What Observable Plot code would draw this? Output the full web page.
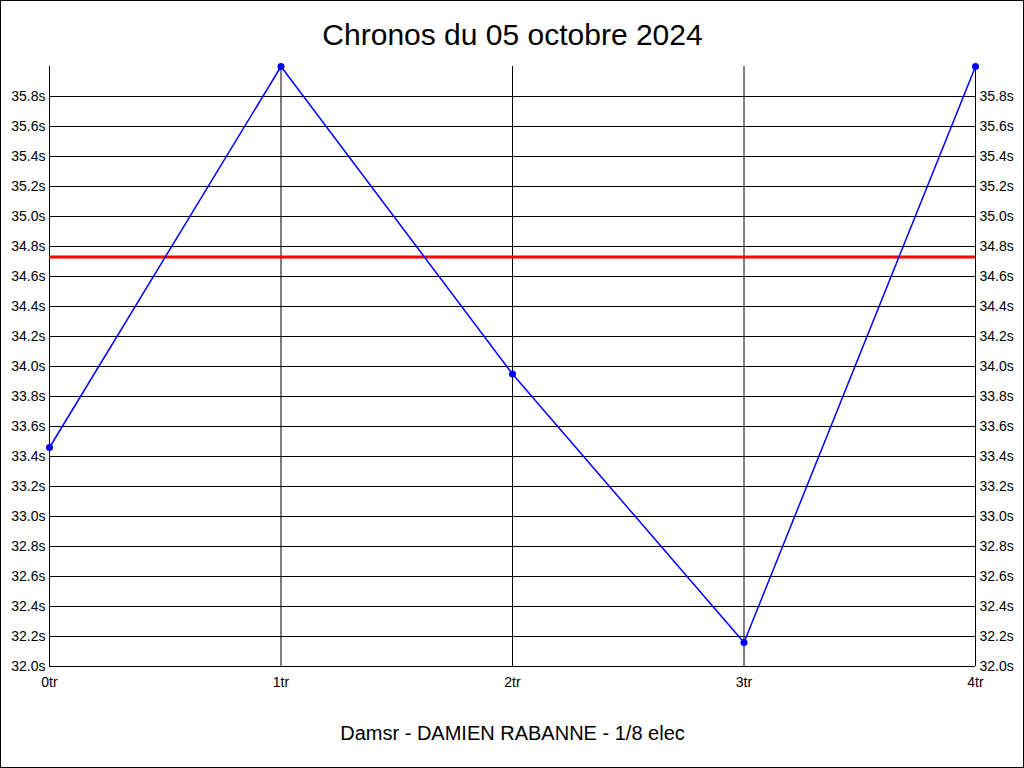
<!DOCTYPE html>
<html>
<head>
<meta charset="utf-8">
<script src="https://cdn.jsdelivr.net/npm/d3@7"></script>
<script src="https://cdn.jsdelivr.net/npm/@observablehq/plot@0.6"></script>
<style>
  html, body { margin: 0; padding: 0; background: #fff; }
  #chart { width: 1024px; height: 768px; box-sizing: border-box; border: 1px solid #000; overflow: hidden; }
  #chart svg { display: block; }
</style>
</head>
<body>
<div id="chart"></div>
<script>
const title = "Chronos du 05 octobre 2024";
const footer = "Damsr - DAMIEN RABANNE - 1/8 elec";
const laps = [0, 1, 2, 3, 4];
const times = [33.46, 36.0, 33.95, 32.16, 36.0];
const average = 34.73;
const yTicks = [32.0, 32.2, 32.4, 32.6, 32.8, 33.0, 33.2, 33.4, 33.6, 33.8, 34.0, 34.2, 34.4, 34.6, 34.8, 35.0, 35.2, 35.4, 35.6, 35.8];
const xTicks = [0, 1, 2, 3, 4];

const data = laps.map((l, i) => ({lap: l, time: times[i]}));
const fmtY = d => d.toFixed(1) + "s";

const chart = Plot.plot({
  width: 1022,
  height: 766,
  marginLeft: 48,
  marginRight: 48,
  marginTop: 65,
  marginBottom: 101,
  style: {fontFamily: "Liberation Sans, Arial, sans-serif", fontSize: "14px", background: "#fff", color: "#000"},
  x: {domain: [0, 4], label: null},
  y: {domain: [32, 36], label: null},
  marks: [
    Plot.ruleY(yTicks, {stroke: "#000", strokeWidth: 1}),
    Plot.ruleX(xTicks, {stroke: "#000", strokeWidth: 1}),
    Plot.axisY({anchor: "left", ticks: yTicks, tickSize: 0, tickPadding: 4, tickFormat: fmtY, fontSize: 14, label: null}),
    Plot.axisY({anchor: "right", ticks: yTicks, tickSize: 0, tickPadding: 4, tickFormat: fmtY, fontSize: 14, label: null}),
    Plot.axisX({ticks: xTicks, tickSize: 0, tickPadding: 11, tickFormat: d => d + "tr", fontSize: 14, label: null}),
    Plot.ruleY([average], {stroke: "#ff0000", strokeWidth: 3}),
    Plot.line(data, {x: "lap", y: "time", stroke: "#0000ff", strokeWidth: 1.5}),
    Plot.dot(data, {x: "lap", y: "time", r: 3.5, fill: "#0000ff", stroke: "none"}),
    Plot.text([title], {frameAnchor: "top", dy: -31, text: d => d, fontSize: 30, lineAnchor: "middle", fill: "#000"}),
    Plot.text([footer], {frameAnchor: "bottom", dy: 67, text: d => d, fontSize: 20, lineAnchor: "middle", fill: "#000"})
  ]
});
document.getElementById("chart").appendChild(chart);
</script>
</body>
</html>
